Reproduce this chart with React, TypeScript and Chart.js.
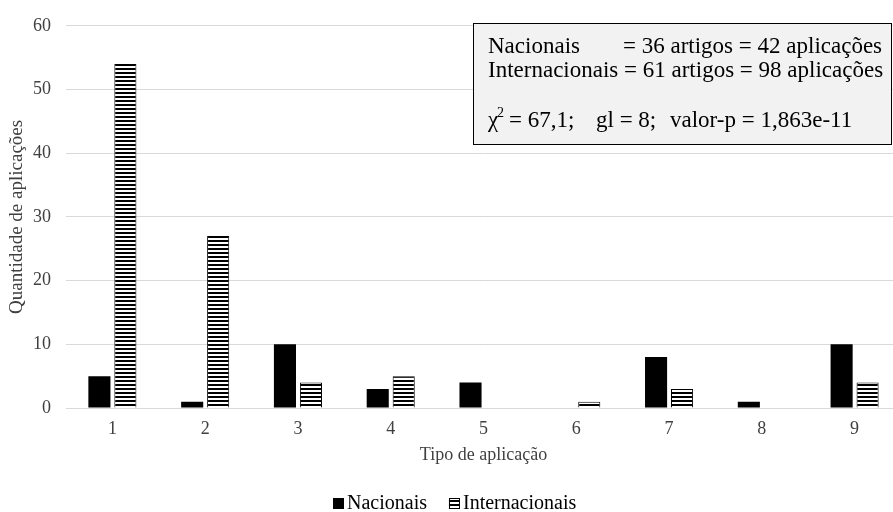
import React, { useEffect, useRef } from "react";
import { Chart, registerables } from "chart.js";

Chart.register(...registerables);

const categories = ["1", "2", "3", "4", "5", "6", "7", "8", "9"];
const nacionais = [5, 1, 10, 3, 4, 0, 8, 1, 10];
const internacionais = [54, 27, 4, 5, 0, 1, 3, 0, 4];
const yTicks = [0, 10, 20, 30, 40, 50, 60];
const seriesNames = ["Nacionais", "Internacionais"];
const xTitle = "Tipo de aplicação";
const yTitle = "Quantidade de aplicações";
const infoLine1a = "Nacionais";
const infoLine1b = "= 36 artigos = 42 aplicações";
const infoLine2 = "Internacionais = 61 artigos = 98 aplicações";
const infoChi = "χ";
const infoSup = "2";
const infoStat1 = "= 67,1;";
const infoStat2 = "gl = 8;";
const infoStat3 = "valor-p = 1,863e-11";

const FONT = "'Liberation Serif', 'Times New Roman', serif";
const TEXT_GRAY = "#404040";

function makeStripes(): CanvasPattern | string {
  const c = document.createElement("canvas");
  c.width = 8;
  c.height = 4;
  const g = c.getContext("2d");
  if (!g) return "#888";
  g.fillStyle = "#ffffff";
  g.fillRect(0, 0, 8, 4);
  g.fillStyle = "#000000";
  g.fillRect(0, 0, 8, 2);
  const p = g.createPattern(c, "repeat");
  return p || "#888";
}

const infoBoxPlugin = {
  id: "infoBox",
  afterDraw(chart: any) {
    const ctx = chart.ctx as CanvasRenderingContext2D;
    ctx.save();
    ctx.fillStyle = "#f2f2f2";
    ctx.fillRect(473, 23, 418, 121);
    ctx.strokeStyle = "#000";
    ctx.lineWidth = 1;
    ctx.strokeRect(473.5, 23.5, 418, 121);
    ctx.fillStyle = "#000";
    ctx.textBaseline = "alphabetic";
    ctx.textAlign = "left";
    ctx.font = `23px ${FONT}`;
    ctx.fillText(infoLine1a, 488, 53);
    ctx.fillText(infoLine1b, 623, 53);
    ctx.fillText(infoLine2, 488, 77);
    ctx.fillText(infoChi, 488, 127);
    ctx.font = `14px ${FONT}`;
    ctx.fillText(infoSup, 497, 117);
    ctx.font = `23px ${FONT}`;
    ctx.fillText(infoStat1, 509, 127);
    ctx.fillText(infoStat2, 596, 127);
    ctx.fillText(infoStat3, 670, 127);
    ctx.restore();
  },
};

const legendPlugin = {
  id: "customLegend",
  afterDraw(chart: any) {
    const ctx = chart.ctx as CanvasRenderingContext2D;
    ctx.save();
    ctx.font = `20px ${FONT}`;
    ctx.textBaseline = "alphabetic";
    ctx.textAlign = "left";
    const box = 11;
    const gapText = 3;
    const gapItems = 22;
    const ds = chart.data.datasets;
    let x = 333;
    const boxTop = 498;
    const baseline = 509;
    ds.forEach((d: any) => {
      ctx.fillStyle = d.backgroundColor;
      ctx.fillRect(x, boxTop, box, box);
      if (d.borderWidth) {
        ctx.strokeStyle = "#000";
        ctx.lineWidth = 1;
        ctx.strokeRect(x + 0.5, boxTop + 0.5, box - 1, box - 1);
      }
      ctx.fillStyle = "#000";
      ctx.fillText(d.label, x + box + gapText, baseline);
      x += box + gapText + ctx.measureText(d.label).width + gapItems;
    });
    ctx.restore();
  },
};

export default function App() {
  const ref = useRef<HTMLCanvasElement | null>(null);

  useEffect(() => {
    const canvas = ref.current;
    if (!canvas) return;
    const stripes = makeStripes();
    const chart = new Chart(canvas, {
      type: "bar",
      data: {
        labels: categories,
        datasets: [
          {
            label: seriesNames[0],
            data: nacionais,
            backgroundColor: "#000000",
            borderWidth: 0,
            categoryPercentage: 0.56,
            barPercentage: 0.85,
          },
          {
            label: seriesNames[1],
            data: internacionais,
            backgroundColor: stripes as any,
            borderColor: "#000000",
            borderWidth: 1,
            categoryPercentage: 0.56,
            barPercentage: 0.85,
          },
        ],
      },
      options: {
        responsive: false,
        animation: false,
        devicePixelRatio: 1,
        layout: { padding: { top: 18, right: 1, bottom: 40, left: 0 } },
        plugins: {
          legend: { display: false },
          tooltip: { enabled: false },
          title: { display: false },
        },
        scales: {
          x: {
            grid: { display: false, drawTicks: false },
            border: { display: false },
            ticks: {
              padding: 10,
              color: TEXT_GRAY,
              font: { family: FONT, size: 18 },
            },
            title: {
              display: true,
              text: xTitle,
              color: TEXT_GRAY,
              font: { family: FONT, size: 18 },
              padding: { top: 0, bottom: 6 },
            },
            afterFit(s: any) {
              s.height = 64;
            },
          },
          y: {
            min: 0,
            max: 60,
            afterBuildTicks(s: any) {
              s.ticks = yTicks.map((v) => ({ value: v }));
            },
            grid: { color: "#d9d9d9", drawTicks: false, lineWidth: 1 },
            border: { display: false },
            ticks: {
              padding: 15,
              color: TEXT_GRAY,
              font: { family: FONT, size: 18 },
            },
            title: {
              display: true,
              text: yTitle,
              color: TEXT_GRAY,
              font: { family: FONT, size: 19 },
              padding: { top: 6, bottom: 0 },
            },
            afterFit(s: any) {
              s.width = 66;
            },
          },
        },
      },
      plugins: [infoBoxPlugin, legendPlugin],
    });
    return () => chart.destroy();
  }, []);

  return (
    <div
      style={{
        position: "fixed",
        left: 0,
        top: 0,
        width: 893,
        height: 512,
        overflow: "hidden",
        background: "#fff",
      }}
    >
      <canvas ref={ref} width={902} height={512} style={{ width: 902, height: 512, display: "block" }} />
    </div>
  );
}
